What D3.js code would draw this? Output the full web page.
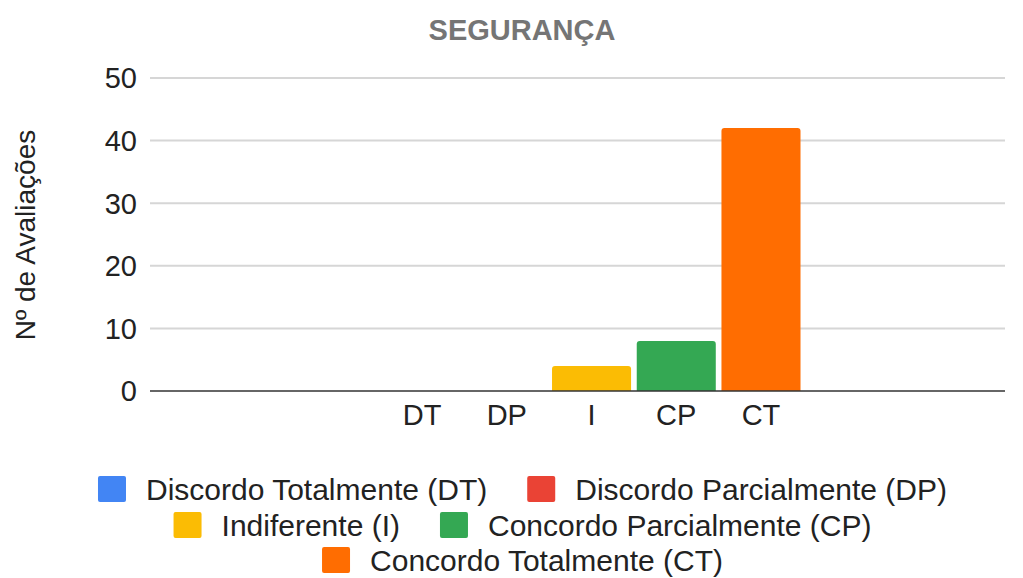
<!DOCTYPE html>
<html><head><meta charset="utf-8">
<script src="https://cdn.jsdelivr.net/npm/d3@7"></script>
<style>body{margin:0;background:#fff}svg{display:block;font-family:"Liberation Sans",Arial,sans-serif}</style>
</head><body><svg id="c" width="1023" height="578"></svg>
<script>
const title = "SEGURANÇA";
const yLabel = "Nº de Avaliações";
const categories = ["DT","DP","I","CP","CT"];
const values = [0,0,4,8,42];
const seriesNames = ["Discordo Totalmente (DT)","Discordo Parcialmente (DP)","Indiferente (I)","Concordo Parcialmente (CP)","Concordo Totalmente (CT)"];
const colors = ["#4285F4","#EA4335","#FBBC04","#34A853","#FF6D01"];
const yTicks = [0,10,20,30,40,50];
const legendRows = [[0,1],[2,3],[4]];

const svg = d3.select("#c");
const plotL = 150, plotR = 1005;
const y = d3.scaleLinear().domain([0,50]).range([391,78]);
const x = d3.scaleBand().domain(categories).range([382.6,800.5]).paddingInner(0.067).paddingOuter(0);

svg.append("text").attr("x",522).attr("y",40).attr("text-anchor","middle")
  .attr("font-size",29).attr("font-weight","bold").attr("fill","#757575").text(title);

// grid
svg.append("g").selectAll("line").data(yTicks.filter(d=>d>0)).join("line")
  .attr("x1",plotL).attr("x2",plotR).attr("y1",d=>y(d)).attr("y2",d=>y(d))
  .attr("stroke","#d6d6d6").attr("stroke-width",2);

// y tick labels
svg.append("g").selectAll("text").data(yTicks).join("text")
  .attr("x",137).attr("y",d=>y(d)).attr("dy","0.36em").attr("text-anchor","end")
  .attr("font-size",29).attr("fill","#222").text(d=>d);

// y label
svg.append("text").attr("transform","translate(35,235) rotate(-90)").attr("text-anchor","middle")
  .attr("font-size",28).attr("fill","#222").text(yLabel);

// bars
const r = 3;
svg.append("g").selectAll("path").data(categories.map((c,i)=>({c,v:values[i],col:colors[i]})).filter(d=>d.v>0)).join("path")
  .attr("d",d=>{
    const x0=x(d.c), w=x.bandwidth(), y0=y(d.v), yb=y(0);
    return `M${x0},${yb}V${y0+r}Q${x0},${y0} ${x0+r},${y0}H${x0+w-r}Q${x0+w},${y0} ${x0+w},${y0+r}V${yb}Z`;
  }).attr("fill",d=>d.col);

// baseline
svg.append("line").attr("x1",plotL).attr("x2",plotR).attr("y1",y(0)).attr("y2",y(0))
  .attr("stroke","#333").attr("stroke-width",1.5);

// x labels
svg.append("g").selectAll("text").data(categories).join("text")
  .attr("x",d=>x(d)+x.bandwidth()/2).attr("y",425).attr("text-anchor","middle")
  .attr("font-size",29).attr("fill","#222").text(d=>d);

// legend
const lg = svg.append("g");
const rowY = [489,525,560];
const sq = 28, gapT = 20, gapItem = 40;
legendRows.forEach((row,ri)=>{
  const g = lg.append("g");
  let cx = 0;
  row.forEach(i=>{
    g.append("rect").attr("x",cx).attr("y",rowY[ri]-13).attr("width",sq).attr("height",26).attr("rx",2).attr("fill",colors[i]);
    const t = g.append("text").attr("x",cx+sq+gapT).attr("y",rowY[ri]).attr("dy","0.36em")
      .attr("font-size",30).attr("fill","#222").text(seriesNames[i]);
    cx += sq+gapT+t.node().getComputedTextLength()+gapItem;
  });
  const total = cx - gapItem;
  g.attr("transform",`translate(${522.5-total/2},0)`);
});
</script></body></html>
